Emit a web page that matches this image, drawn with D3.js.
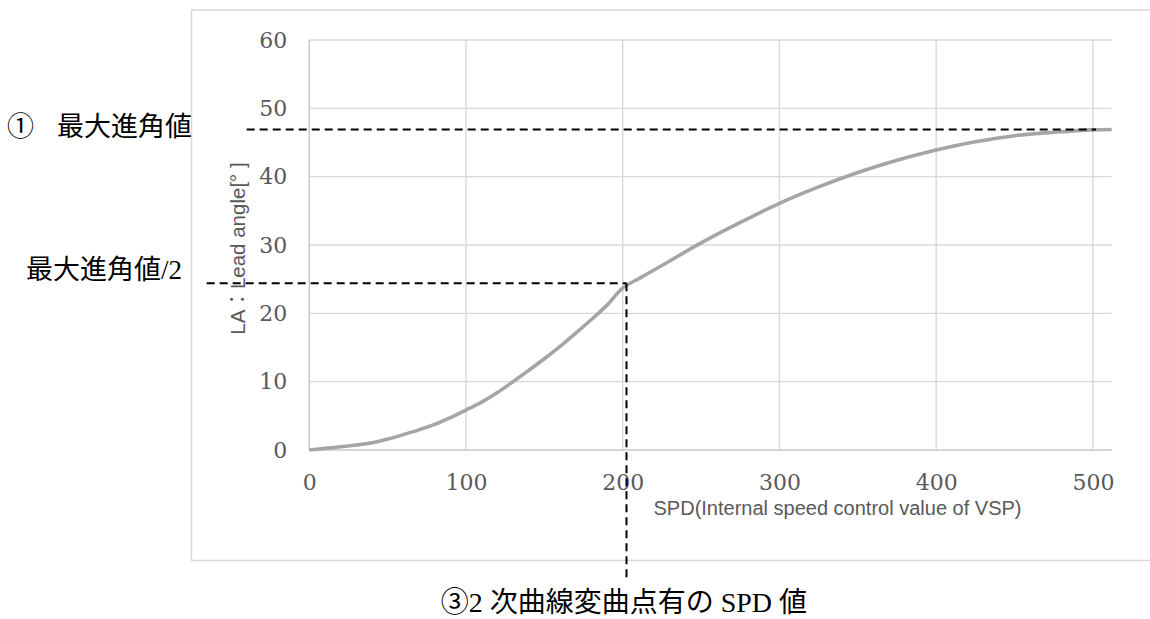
<!DOCTYPE html>
<html>
<head>
<meta charset="utf-8">
<script src="https://cdn.jsdelivr.net/npm/d3@7"></script>
<style>
  html, body { margin: 0; padding: 0; background: #fff; }
  svg { display: block; }
</style>
</head>
<body>
<svg id="chart" width="1150" height="619"></svg>
<script>
// SPD (internal speed control value of VSP) vs. lead angle curve
const spd = [0, 10, 20, 30, 40, 50, 60, 70, 80, 90, 100, 110, 120, 130, 140, 150, 160, 170, 180, 190, 199,
             212, 225, 250, 275, 300, 325, 350, 375, 400, 425, 450, 475, 500, 512];
const leadAngle = [0, 0.24, 0.48, 0.72, 1.05, 1.6, 2.25, 2.95, 3.75, 4.75, 5.85, 7.0, 8.4, 10.0, 11.65, 13.35, 15.15, 17.1, 19.1, 21.2, 23.5,
                   25.3, 27.0, 30.3, 33.3, 36.1, 38.5, 40.6, 42.4, 43.9, 45.1, 46.0, 46.5, 46.85, 46.9];

const xTicks = [0, 100, 200, 300, 400, 500];
const yTicks = [0, 10, 20, 30, 40, 50, 60];

// Guide lines: maximum lead angle, half of it, and the SPD at the inflection point
const maxLeadAngle = 46.9;
const halfLeadAngle = 24.4;
const inflectionSpd = 202.4;
const maxGuideEndSpd = 502;

const svg = d3.select("#chart");
const x = d3.scaleLinear().domain([0, 512]).range([309.3, 1111.7]);
const y = d3.scaleLinear().domain([0, 60]).range([450, 40]);

const gridColor = "#d9d9d9";
const axisColor = "#c8c8c8";
const labelColor = "#595959";

// outer chart frame (runs past the right edge)
svg.append("rect")
  .attr("x", 191.5).attr("y", 10)
  .attr("width", 1000).attr("height", 550.5)
  .attr("fill", "#fff").attr("stroke", gridColor).attr("stroke-width", 1.5);

// gridlines
const grid = svg.append("g");
grid.selectAll("line.h").data(yTicks.slice(1)).join("line")
  .attr("x1", x(0)).attr("x2", x(512))
  .attr("y1", d => y(d)).attr("y2", d => y(d))
  .attr("stroke", gridColor).attr("stroke-width", 1.4);
grid.selectAll("line.v").data(xTicks.slice(1)).join("line")
  .attr("x1", d => x(d)).attr("x2", d => x(d))
  .attr("y1", y(60)).attr("y2", y(0))
  .attr("stroke", gridColor).attr("stroke-width", 1.4);

// axis lines
svg.append("line").attr("x1", x(0)).attr("x2", x(0)).attr("y1", y(60)).attr("y2", y(0))
  .attr("stroke", axisColor).attr("stroke-width", 1.5);
svg.append("line").attr("x1", x(0)).attr("x2", x(512)).attr("y1", y(0)).attr("y2", y(0))
  .attr("stroke", axisColor).attr("stroke-width", 1.5);

// tick labels via d3 axes
const yAxis = svg.append("g").attr("transform", `translate(${x(0)},0)`)
  .call(d3.axisLeft(y).tickValues(yTicks).tickSize(0).tickPadding(22));
const xAxis = svg.append("g").attr("transform", `translate(0,${y(0)})`)
  .call(d3.axisBottom(x).tickValues(xTicks).tickSize(0).tickPadding(24));
[yAxis, xAxis].forEach(g => {
  g.select(".domain").remove();
  g.selectAll("text")
    .attr("fill", labelColor)
    .style("font-family", "'DejaVu Serif', 'Liberation Serif', serif")
    .style("font-size", "22px");
});

// axis titles
svg.append("text")
  .attr("x", 837.5).attr("y", 515)
  .attr("text-anchor", "middle")
  .attr("fill", labelColor)
  .style("font-family", "'Liberation Sans', Arial, 'Noto Sans CJK JP', sans-serif")
  .style("font-size", "20px")
  .text("SPD(Internal speed control value of VSP)");

svg.append("text")
  .attr("transform", "translate(245,248.5) rotate(-90)")
  .attr("text-anchor", "middle")
  .attr("fill", labelColor)
  .style("font-family", "'Liberation Sans', Arial, 'Noto Sans CJK JP', sans-serif")
  .style("font-size", "20.5px")
  .text("LA：Lead angle[° ]");

// the lead angle curve
const line = d3.line()
  .x((d, i) => x(spd[i]))
  .y(d => y(d))
  .curve(d3.curveMonotoneX);
svg.append("path")
  .datum(leadAngle)
  .attr("d", line)
  .attr("fill", "none")
  .attr("stroke", "#a5a5a5")
  .attr("stroke-width", 3.6)
  .attr("stroke-linejoin", "round");

// dashed guide lines
const guides = svg.append("g")
  .attr("stroke", "#000").attr("stroke-width", 2).attr("stroke-dasharray", "8,5").attr("fill", "none");
guides.append("line")
  .attr("x1", 246.7).attr("x2", x(maxGuideEndSpd))
  .attr("y1", y(maxLeadAngle)).attr("y2", y(maxLeadAngle));
guides.append("line")
  .attr("x1", 206.7).attr("x2", x(inflectionSpd))
  .attr("y1", y(halfLeadAngle)).attr("y2", y(halfLeadAngle));
guides.append("line")
  .attr("x1", x(inflectionSpd)).attr("x2", x(inflectionSpd))
  .attr("y1", y(halfLeadAngle)).attr("y2", 578);

// annotations
const jpFont = "'Liberation Serif', 'Noto Sans CJK JP', serif";
svg.append("text")
  .attr("x", 7).attr("y", 136)
  .style("font-family", "'Noto Sans CJK JP', sans-serif").style("font-size", "27px")
  .attr("fill", "#000")
  .text("①");
svg.append("text")
  .attr("x", 57).attr("y", 136)
  .style("font-family", jpFont).style("font-size", "27px")
  .attr("fill", "#000")
  .text("最大進角値");
svg.append("text")
  .attr("x", 26).attr("y", 279)
  .style("font-family", jpFont).style("font-size", "27px")
  .attr("fill", "#000")
  .text("最大進角値/2");
svg.append("text")
  .attr("x", 807).attr("y", 612)
  .attr("text-anchor", "end")
  .style("font-family", jpFont).style("font-size", "28px")
  .attr("fill", "#000")
  .text("③2 次曲線変曲点有の SPD 値");
</script>
</body>
</html>
